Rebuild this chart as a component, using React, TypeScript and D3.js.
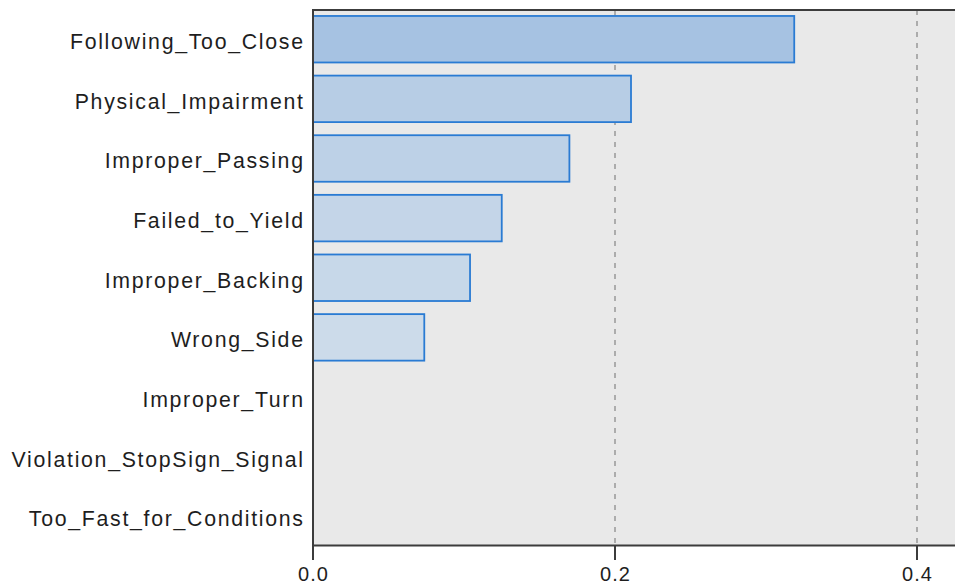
import React, { useEffect, useRef } from 'react'
import * as d3 from 'd3'

const categories = [
  'Following_Too_Close',
  'Physical_Impairment',
  'Improper_Passing',
  'Failed_to_Yield',
  'Improper_Backing',
  'Wrong_Side',
  'Improper_Turn',
  'Violation_StopSign_Signal',
  'Too_Fast_for_Conditions',
]

const importance = [0.3187, 0.2106, 0.1698, 0.125, 0.104, 0.0737, 0, 0, 0]

const xTicks = [0, 0.2, 0.4]

const App = () => {
  const svgRef = useRef<SVGSVGElement | null>(null)

  useEffect(() => {
    const width = 955
    const height = 584
    const plotLeft = 313
    const plotTop = 10
    const plotBottom = 545.5
    const plotRight = 960

    const svg = d3.select(svgRef.current)
    svg.selectAll('*').remove()
    svg.attr('viewBox', `0 0 ${width} ${height}`)

    const xScale = d3.scaleLinear().domain([0, 0.4]).range([plotLeft, 917])
    const yScale = d3
      .scaleBand<string>()
      .domain(categories)
      .range([plotTop, plotBottom])
      .paddingInner(0.22)
      .paddingOuter(0.1)

    const maxVal = d3.max(importance) || 1
    const fillScale = d3
      .scaleLinear<string>()
      .domain([0, maxVal])
      .range(['#d7e2ec', '#a6c2e2'])

    // plot background
    svg.append('rect')
      .attr('x', plotLeft)
      .attr('y', plotTop)
      .attr('width', plotRight - plotLeft)
      .attr('height', plotBottom - plotTop)
      .attr('fill', '#e9e9e9')

    // dashed grid lines
    svg.append('g')
      .selectAll('line')
      .data(xTicks.filter((t) => t > 0))
      .enter()
      .append('line')
      .attr('x1', (d) => xScale(d))
      .attr('x2', (d) => xScale(d))
      .attr('y1', plotTop)
      .attr('y2', plotBottom)
      .attr('stroke', '#8c8c8c')
      .attr('stroke-width', 1.3)
      .attr('stroke-dasharray', '5,6')

    // bars
    const rows = categories.map((c, i) => ({ name: c, value: importance[i] }))
    svg.append('g')
      .selectAll('rect')
      .data(rows.filter((d) => d.value > 0))
      .enter()
      .append('rect')
      .attr('x', xScale(0))
      .attr('y', (d) => yScale(d.name) as number)
      .attr('width', (d) => xScale(d.value) - xScale(0))
      .attr('height', yScale.bandwidth())
      .attr('fill', (d) => fillScale(d.value))
      .attr('stroke', '#2a7bd3')
      .attr('stroke-width', 1.8)

    // frame: top border, left axis, bottom axis
    const axisColor = '#3c3c3c'
    svg.append('line')
      .attr('x1', plotLeft)
      .attr('x2', plotRight)
      .attr('y1', plotTop)
      .attr('y2', plotTop)
      .attr('stroke', axisColor)
      .attr('stroke-width', 2)
    svg.append('line')
      .attr('x1', plotLeft)
      .attr('x2', plotLeft)
      .attr('y1', plotTop - 1)
      .attr('y2', plotBottom)
      .attr('stroke', axisColor)
      .attr('stroke-width', 2)
    svg.append('line')
      .attr('x1', plotLeft - 1)
      .attr('x2', plotRight)
      .attr('y1', plotBottom)
      .attr('y2', plotBottom)
      .attr('stroke', axisColor)
      .attr('stroke-width', 2)

    // x ticks and labels
    const ticks = svg.append('g').selectAll('g').data(xTicks).enter().append('g')
    ticks.append('line')
      .attr('x1', (d) => xScale(d))
      .attr('x2', (d) => xScale(d))
      .attr('y1', plotBottom)
      .attr('y2', plotBottom + 14.5)
      .attr('stroke', axisColor)
      .attr('stroke-width', 2)
    ticks.append('text')
      .attr('x', (d) => xScale(d) + 0.5)
      .attr('y', 581)
      .attr('text-anchor', 'middle')
      .style('font-family', '"Liberation Sans", Arial, sans-serif')
      .style('font-size', '20px')
      .style('letter-spacing', '1px')
      .style('fill', '#1e1e1e')
      .text((d) => d3.format('.1f')(d))

    // category labels
    svg.append('g')
      .selectAll('text')
      .data(categories)
      .enter()
      .append('text')
      .attr('x', plotLeft - 8.3)
      .attr('y', (d) => (yScale(d) as number) + yScale.bandwidth() / 2 + 10)
      .attr('text-anchor', 'end')
      .style('font-family', '"Liberation Sans", Arial, sans-serif')
      .style('font-size', '21.3px')
      .style('letter-spacing', '1.7px')
      .style('fill', '#1e1e1e')
      .text((d) => d)
  }, [])

  return (
    <svg
      ref={svgRef}
      width={955}
      height={584}
      style={{ position: 'absolute', left: 0, top: 0, display: 'block', background: '#fff' }}
    ></svg>
  )
}

export default App
